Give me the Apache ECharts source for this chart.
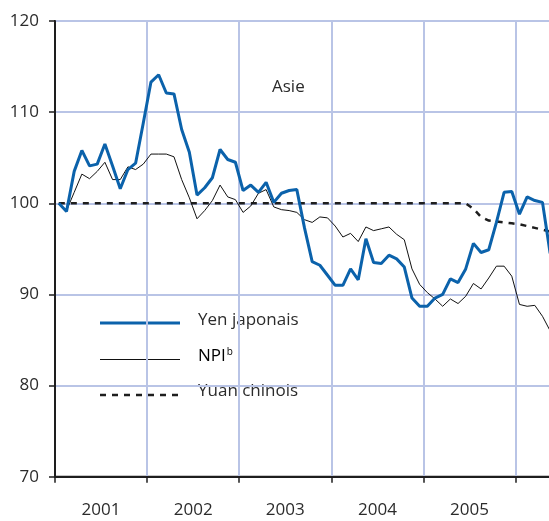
<!DOCTYPE html>
<html>
<head>
<meta charset="utf-8">
<script src="https://cdn.jsdelivr.net/npm/echarts/dist/echarts.min.js"></script>
<style>
html,body{margin:0;padding:0;background:#fff;}
#chart{width:549px;height:521px;}
</style>
</head>
<body>
<div id="chart"></div>
<script>
// Monthly index, Jan 2001 – May 2006 (Jan 2001 = 100)
const years = ['2001', '2002', '2003', '2004', '2005'];
const yTicks = [70, 80, 90, 100, 110, 120];

const yen = [
  100.0, 99.1, 103.5, 105.8, 104.1, 104.3, 106.5, 104.1, 101.6, 103.7, 104.4, 108.8,
  113.3, 114.1, 112.1, 112.0, 108.1, 105.6, 100.9, 101.7, 102.8, 105.9, 104.8, 104.5,
  101.4, 102.0, 101.2, 102.3, 100.1, 101.1, 101.4, 101.5, 97.3, 93.6, 93.2, 92.1,
  91.0, 91.0, 92.8, 91.6, 96.1, 93.5, 93.4, 94.3, 93.9, 93.0, 89.6, 88.7,
  88.7, 89.6, 90.0, 91.7, 91.3, 92.8, 95.6, 94.6, 94.9, 97.9, 101.2, 101.3,
  98.8, 100.7, 100.3, 100.1, 94.5
];

const npi = [
  100.0, 99.2, 101.2, 103.2, 102.7, 103.5, 104.5, 102.6, 102.6, 104.0, 103.7, 104.3,
  105.4, 105.4, 105.4, 105.1, 102.6, 100.6, 98.3, 99.2, 100.3, 102.0, 100.7, 100.4,
  99.0, 99.7, 101.1, 101.5, 99.6, 99.3, 99.2, 99.0, 98.2, 97.9, 98.5, 98.4,
  97.5, 96.3, 96.7, 95.8, 97.4, 97.0, 97.2, 97.4, 96.6, 96.0, 92.8, 91.1,
  90.2, 89.5, 88.7, 89.5, 89.0, 89.8, 91.2, 90.6, 91.8, 93.1, 93.1, 92.0,
  88.9, 88.7, 88.8, 87.6, 86.0
];

const yuan = [
  100, 100, 100, 100, 100, 100, 100, 100, 100, 100, 100, 100,
  100, 100, 100, 100, 100, 100, 100, 100, 100, 100, 100, 100,
  100, 100, 100, 100, 100, 100, 100, 100, 100, 100, 100, 100,
  100, 100, 100, 100, 100, 100, 100, 100, 100, 100, 100, 100,
  100, 100, 100, 100, 100, 100, 99.4, 98.5, 98.1, 98.0, 97.9, 97.8,
  97.7, 97.5, 97.3, 97.1, 96.9
];

const FONT = '"Open Sans", "Noto Sans", sans-serif';
const TXT = '#2b2b2b';
const GRIDC = '#b9c4e6';

// points sit at mid-month on a month-count x axis
const toPts = arr => arr.map((v, i) => [i + 0.5, v]);

const chart = echarts.init(document.getElementById('chart'), null, {renderer: 'canvas'});

chart.setOption({
  animation: false,
  backgroundColor: '#fff',
  grid: {
    left: 55, top: 21, width: 499, height: 455.7,
    outerBoundsMode: 'none', containLabel: false,
    show: true, borderColor: '#1e1e1e', borderWidth: 2, backgroundColor: 'transparent'
  },
  xAxis: [
    {
      type: 'value', min: 0, max: 65, interval: 12,
      axisLine: {show: true, lineStyle: {color: '#1e1e1e', width: 2}},
      axisTick: {show: true, length: 6, lineStyle: {color: '#1e1e1e', width: 1.5}},
      axisLabel: {show: false},
      splitLine: {show: true, lineStyle: {color: GRIDC, width: 2}}
    },
    {
      type: 'value', min: 0, max: 65, interval: 6, position: 'bottom',
      axisLine: {show: false}, axisTick: {show: false}, splitLine: {show: false},
      axisLabel: {
        show: true, margin: 25, fontFamily: FONT, fontSize: 17, color: TXT,
        formatter: v => (v % 12 === 6 ? years[(v - 6) / 12] : '')
      }
    }
  ],
  yAxis: {
    type: 'value', min: yTicks[0], max: yTicks[yTicks.length - 1], interval: 10,
    axisLine: {show: true, lineStyle: {color: '#1e1e1e', width: 2}},
    axisTick: {show: true, length: 6, lineStyle: {color: '#1e1e1e', width: 1.5}},
    axisLabel: {margin: 16, fontFamily: FONT, fontSize: 17, color: TXT},
    splitLine: {show: true, lineStyle: {color: GRIDC, width: 2}}
  },
  series: [
    {
      name: 'Yuan chinois', type: 'line', xAxisIndex: 0, data: toPts(yuan),
      symbol: 'none', z: 3,
      lineStyle: {color: '#1e1e1e', width: 2.5, type: [6, 6]}
    },
    {
      name: 'NPI', type: 'line', xAxisIndex: 0, data: toPts(npi),
      symbol: 'none', z: 4,
      lineStyle: {color: '#111', width: 1}
    },
    {
      name: 'Yen japonais', type: 'line', xAxisIndex: 0, data: toPts(yen),
      symbol: 'none', z: 5,
      lineStyle: {color: '#0b62ab', width: 3}
    }
  ],
  graphic: [
    {type: 'text', left: 272, top: 79, style: {text: 'Asie', font: '17px ' + FONT, fill: TXT}},
    {type: 'line', shape: {x1: 100, y1: 323, x2: 180, y2: 323}, style: {stroke: '#0b62ab', lineWidth: 3}},
    {type: 'line', shape: {x1: 100, y1: 359.5, x2: 180, y2: 359.5}, style: {stroke: '#111', lineWidth: 1}},
    {type: 'line', shape: {x1: 100, y1: 395, x2: 182, y2: 395}, style: {stroke: '#1e1e1e', lineWidth: 2.5, lineDash: [6, 6]}},
    {type: 'text', x: 198, y: 320, style: {text: 'Yen japonais', font: '17px ' + FONT, fill: TXT, verticalAlign: 'middle'}},
    {type: 'text', x: 198, y: 356, style: {
      text: '{a|NPI}{b|b}', verticalAlign: 'middle',
      rich: {
        a: {fontFamily: FONT, fontSize: 17, color: TXT},
        b: {fontFamily: FONT, fontSize: 10, color: TXT, verticalAlign: 'top', padding: [0, 0, 8, 1]}
      }
    }},
    {type: 'text', x: 198, y: 391, style: {text: 'Yuan chinois', font: '17px ' + FONT, fill: TXT, verticalAlign: 'middle'}}
  ]
});
</script>
</body>
</html>
